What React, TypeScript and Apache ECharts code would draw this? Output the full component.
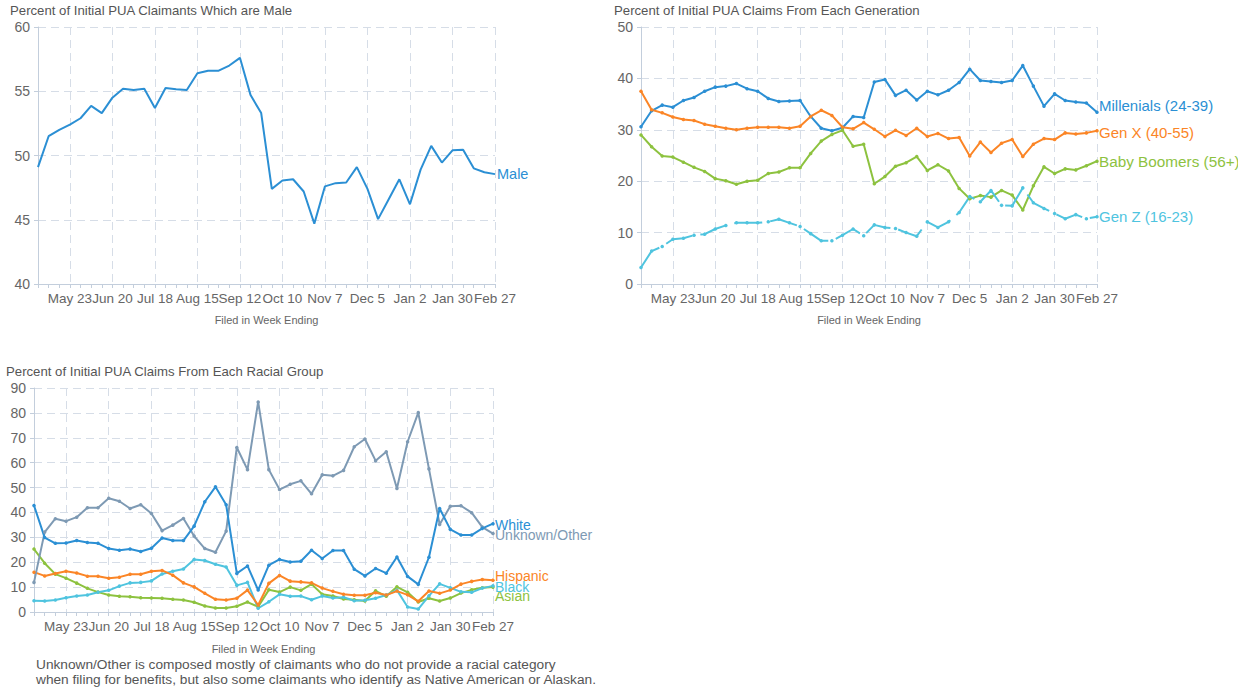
import React, { useEffect, useRef } from "react";
import * as echarts from "echarts";

const weeks = [
  "May 2", "May 9", "May 16", "May 23", "May 30", "Jun 6", "Jun 13", "Jun 20", "Jun 27",
  "Jul 4", "Jul 11", "Jul 18", "Jul 25", "Aug 1", "Aug 8", "Aug 15", "Aug 22", "Aug 29",
  "Sep 5", "Sep 12", "Sep 19", "Sep 26", "Oct 3", "Oct 10", "Oct 17", "Oct 24", "Oct 31",
  "Nov 7", "Nov 14", "Nov 21", "Nov 28", "Dec 5", "Dec 12", "Dec 19", "Dec 26", "Jan 2",
  "Jan 9", "Jan 16", "Jan 23", "Jan 30", "Feb 6", "Feb 13", "Feb 20", "Feb 27",
];

const male = [
  49.1, 51.5, 52.0, 52.4, 52.9, 53.86, 53.3, 54.5, 55.2, 55.1, 55.2, 53.7, 55.26, 55.15, 55.1,
  56.4, 56.6, 56.6, 57.0, 57.6, 54.7, 53.3, 47.4, 48.05, 48.15, 47.2, 44.7, 47.6, 47.85, 47.9,
  49.1, 47.4, 45.05, 46.6, 48.15, 46.2, 48.9, 50.75, 49.45, 50.4, 50.45, 49.0, 48.7, 48.55,
];

const millenials = [
  30.6, 33.7, 34.8, 34.4, 35.7, 36.3, 37.5, 38.3, 38.5, 39.0, 38.0, 37.5, 36.1, 35.5, 35.6,
  35.7, 32.6, 30.3, 29.8, 30.4, 32.6, 32.4, 39.3, 39.8, 36.7, 37.7, 35.8, 37.5, 36.8, 37.7,
  39.2, 41.8, 39.6, 39.4, 39.2, 39.6, 42.5, 38.5, 34.6, 37.0, 35.7, 35.4, 35.2, 33.4,
];
const genX = [
  37.5, 33.9, 33.3, 32.5, 32.0, 31.8, 31.1, 30.7, 30.3, 30.0, 30.3, 30.5, 30.5, 30.5, 30.3,
  30.7, 32.6, 33.8, 32.8, 30.5, 30.2, 31.4, 30.1, 28.7, 29.9, 28.9, 30.3, 28.7, 29.3, 28.3,
  28.5, 24.9, 27.6, 25.6, 27.4, 28.1, 24.8, 27.2, 28.3, 28.1, 29.4, 29.2, 29.4, 29.8,
];
const boomers = [
  29.0, 26.7, 24.9, 24.7, 23.7, 22.7, 21.9, 20.5, 20.1, 19.4, 20.0, 20.2, 21.5, 21.8, 22.6,
  22.6, 25.4, 27.8, 29.1, 29.9, 26.8, 27.2, 19.5, 20.9, 22.9, 23.6, 24.8, 22.1, 23.2, 22.0,
  18.6, 16.6, 17.2, 16.9, 18.2, 17.3, 14.4, 19.1, 22.8, 21.5, 22.4, 22.2, 23.0, 23.9,
];
const genZ = [
  3.2, 6.4, 7.3, 8.7, 8.9, 9.5, 9.7, 10.7, 11.4, 11.9, 11.9, 11.9, 12.1, 12.6, 11.9,
  11.2, 9.8, 8.4, 8.4, 9.5, 10.7, 9.4, 11.5, 11.0, 10.8, 10.0, 9.3, 12.1, 11.0, 12.1,
  13.9, 17.0, 16.0, 18.2, 15.3, 15.2, 18.7, 15.8, 14.7, 13.7, 12.7, 13.5, 12.7, 13.1,
];

const white = [
  42.8, 29.9, 27.6, 27.7, 28.7, 27.9, 27.6, 25.5, 24.8, 25.3, 24.3, 25.6, 29.7, 28.7, 28.7,
  34.5, 44.3, 50.3, 43.1, 15.5, 18.5, 8.8, 18.8, 21.1, 20.1, 20.4, 24.8, 21.5, 24.7, 24.7,
  17.2, 14.5, 17.5, 15.6, 22.1, 14.3, 11.1, 22.0, 41.6, 33.2, 30.9, 30.9, 33.6, 35.5,
];
const unknownOther = [
  11.9, 32.1, 37.5, 36.5, 38.1, 41.9, 41.9, 45.7, 44.5, 41.6, 43.1, 39.6, 32.7, 34.9, 37.6,
  30.5, 25.5, 24.0, 32.5, 66.1, 57.2, 84.4, 57.2, 49.2, 51.3, 52.7, 47.5, 55.1, 54.7, 56.9,
  66.4, 69.5, 60.8, 64.4, 49.6, 68.4, 80.1, 57.5, 35.2, 42.5, 42.7, 39.9, 34.1, 31.5,
];
const hispanic = [
  16.0, 14.5, 15.5, 16.4, 15.7, 14.4, 14.4, 13.6, 14.0, 15.2, 15.2, 16.4, 16.7, 14.8, 11.7,
  10.1, 7.5, 5.1, 4.8, 5.5, 8.8, 2.8, 11.5, 14.7, 12.4, 12.1, 11.7, 9.6, 8.3, 7.1,
  6.7, 6.7, 7.7, 6.8, 8.4, 6.9, 4.3, 8.4, 7.5, 8.8, 11.2, 12.3, 13.1, 12.8,
];
const black = [
  4.5, 4.4, 4.8, 5.7, 6.4, 6.8, 7.9, 8.7, 10.4, 11.7, 11.9, 12.5, 15.3, 16.4, 17.3,
  21.1, 20.7, 19.2, 18.1, 10.7, 11.9, 1.5, 4.1, 7.1, 6.3, 6.4, 4.9, 6.4, 5.6, 5.9,
  4.5, 4.7, 5.5, 6.8, 8.8, 2.0, 1.2, 6.5, 11.3, 9.7, 8.1, 7.9, 9.6, 10.5,
];
const asian = [
  25.3, 19.6, 15.2, 13.6, 11.6, 9.5, 8.0, 6.8, 6.3, 6.1, 5.7, 5.6, 5.5, 5.1, 4.8,
  3.9, 2.4, 1.6, 1.6, 2.3, 4.0, 2.1, 8.9, 8.0, 10.0, 8.7, 11.2, 7.1, 6.4, 5.2,
  4.9, 4.4, 8.5, 6.3, 10.1, 7.9, 4.0, 5.5, 4.4, 5.6, 7.6, 8.9, 9.7, 10.0,
];

const titles = [
  "Percent of Initial PUA Claimants Which are Male",
  "Percent of Initial PUA Claims From Each Generation",
  "Percent of Initial PUA Claims From Each Racial Group",
];
const axisName = "Filed in Week Ending";
const footnote = [
  "Unknown/Other is composed mostly of claimants who do not provide a racial category",
  "when filing for benefits, but also some claimants who identify as Native American or Alaskan.",
];

const FONT = "'Liberation Sans', Arial, Helvetica, sans-serif";
const C_BLUE = "#2b8fd4";
const C_ORANGE = "#fb8526";
const C_GREEN = "#8dc23f";
const C_CYAN = "#4fc4df";
const C_SLATE = "#7e9ab4";
const AXIS_C = "#c3cedc";
const GRID_C = "#d6dde7";

function makeX(gridIndex: number, nameGap: number) {
  return {
    type: "category",
    gridIndex,
    data: weeks,
    boundaryGap: false,
    axisLine: { show: true, lineStyle: { color: AXIS_C, width: 1 } },
    axisTick: { show: true, interval: 0, length: 4, lineStyle: { color: AXIS_C } },
    axisLabel: {
      interval: (i: number) => i % 4 === 3,
      color: "#666",
      fontSize: 13.5,
      margin: 7,
      fontFamily: FONT,
    },
    splitLine: {
      show: true,
      interval: (i: number) => i % 4 === 3,
      lineStyle: { type: [8, 5], color: GRID_C, width: 1 },
    },
    name: axisName,
    nameLocation: "middle",
    nameGap,
    nameTextStyle: { color: "#666", fontSize: 11, fontFamily: FONT },
  };
}

function makeY(gridIndex: number, min: number, max: number, interval: number) {
  return {
    type: "value",
    gridIndex,
    min,
    max,
    interval,
    axisLine: { show: true, lineStyle: { color: AXIS_C, width: 1 } },
    axisTick: { show: true, length: 4, lineStyle: { color: AXIS_C } },
    axisLabel: { color: "#666", fontSize: 14, margin: 8, fontFamily: FONT },
    splitLine: { show: true, lineStyle: { type: [8, 5], color: GRID_C, width: 1 } },
  };
}

function makeSeries(
  name: string,
  data: number[],
  color: string,
  axisIndex: number,
  opts: { symbols?: boolean; offset?: number[]; dash?: number[]; size?: number } = {}
) {
  return {
    type: "line",
    name,
    data,
    xAxisIndex: axisIndex,
    yAxisIndex: axisIndex,
    color,
    showSymbol: !!opts.symbols,
    symbol: "circle",
    symbolSize: 3.5,
    lineStyle: { width: 2, color, type: opts.dash ? opts.dash : "solid" },
    itemStyle: { color },
    emphasis: { disabled: true },
    endLabel: {
      show: true,
      formatter: name,
      color,
      fontSize: opts.size || 14.5,
      fontFamily: FONT,
      distance: 2,
      offset: opts.offset || [0, 0],
    },
    z: 3,
  };
}

export default function App() {
  const ref = useRef<HTMLDivElement>(null);
  useEffect(() => {
    document.body.style.margin = "0";
    if (!ref.current) return;
    const chart = echarts.init(ref.current, undefined, { renderer: "svg" });
    const titleStyle = { color: "#555", fontSize: 13.2, fontWeight: "normal", fontFamily: FONT };
    chart.setOption({
      animation: false,
      backgroundColor: "#ffffff",
      textStyle: { fontFamily: FONT },
      title: [
        { text: titles[0], left: 10, top: 4, padding: 0, textStyle: titleStyle },
        { text: titles[1], left: 614, top: 4, padding: 0, textStyle: titleStyle },
        { text: titles[2], left: 6, top: 365, padding: 0, textStyle: titleStyle },
      ],
      grid: [
        { left: 38, top: 27, width: 457, height: 257 },
        { left: 641, top: 27, width: 456, height: 257 },
        { left: 34, top: 388, width: 459, height: 224 },
      ],
      xAxis: [makeX(0, 30), makeX(1, 30), makeX(2, 31)],
      yAxis: [makeY(0, 40, 60, 5), makeY(1, 0, 50, 10), makeY(2, 0, 90, 10)],
      series: [
        makeSeries("Male", male, C_BLUE, 0),
        makeSeries("Millenials (24-39)", millenials, C_BLUE, 1, { symbols: true, offset: [0, -7], size: 15 }),
        makeSeries("Gen X (40-55)", genX, C_ORANGE, 1, { symbols: true, offset: [0, 1.5], size: 15 }),
        makeSeries("Baby Boomers (56+)", boomers, C_GREEN, 1, { symbols: true, size: 15.3 }),
        makeSeries("Gen Z (16-23)", genZ, C_CYAN, 1, { symbols: true, dash: [28, 8], size: 15 }),
        makeSeries("Asian", asian, C_GREEN, 2, { symbols: true, offset: [0, 9], size: 14 }),
        makeSeries("Black", black, C_CYAN, 2, { symbols: true, offset: [0, 1], size: 14 }),
        makeSeries("Hispanic", hispanic, C_ORANGE, 2, { symbols: true, offset: [0, -4.5], size: 14 }),
        makeSeries("Unknown/Other", unknownOther, C_SLATE, 2, { symbols: true, offset: [0, 1.5], size: 14 }),
        makeSeries("White", white, C_BLUE, 2, { symbols: true, offset: [0, 1.5], size: 14 }),
      ],
      graphic: [
        {
          type: "text",
          left: 36,
          top: 657,
          style: {
            text: footnote.join("\n"),
            fill: "#555",
            fontSize: 13.7,
            lineHeight: 15,
            fontFamily: FONT,
          },
        },
      ],
    });
    return () => chart.dispose();
  }, []);
  return (
    <div
      ref={ref}
      style={{ position: "absolute", left: 0, top: 0, width: 1238, height: 691 }}
    />
  );
}
